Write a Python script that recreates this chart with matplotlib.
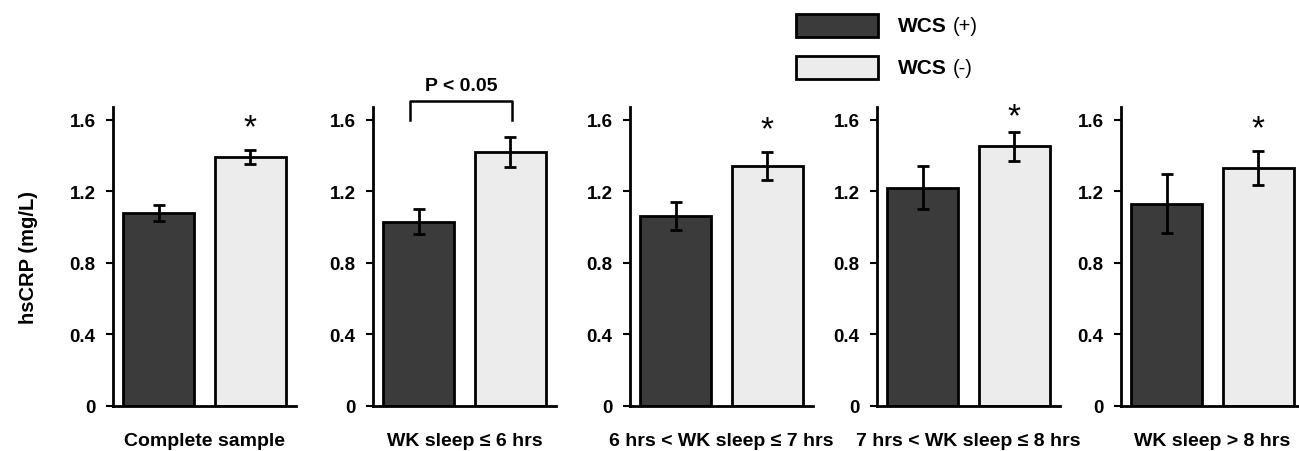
import matplotlib.pyplot as plt
from matplotlib.patches import Rectangle

plt.rcParams['font.family'] = ['Liberation Sans', 'DejaVu Sans']

groups = ["Complete sample", "WK sleep ≤ 6 hrs", "6 hrs < WK sleep ≤ 7 hrs",
          "7 hrs < WK sleep ≤ 8 hrs", "WK sleep > 8 hrs"]
wcs_pos = [1.08, 1.03, 1.06, 1.22, 1.13]
wcs_pos_err = [0.045, 0.07, 0.078, 0.12, 0.165]
wcs_neg = [1.39, 1.42, 1.34, 1.45, 1.33]
wcs_neg_err = [0.04, 0.084, 0.077, 0.083, 0.093]
significant = [True, False, True, True, True]
yticks = [0, 0.4, 0.8, 1.2, 1.6]
ytick_labels = ["0", "0.4", "0.8", "1.2", "1.6"]

dark = "#3b3b3b"
light = "#ececec"

W, H = 1299, 452
fig = plt.figure(figsize=(W / 100, H / 100), dpi=100)

# panel left edges in pixels
lefts = [113, 373, 630, 877, 1121]
for i in range(5):
    ax = fig.add_axes([lefts[i] / W, 45 / H, 183 / W, 299 / H])
    ax.bar([0, 1], [wcs_pos[i], wcs_neg[i]], width=0.78, color=[dark, light],
           edgecolor="black", linewidth=2)
    ax.errorbar([0, 1], [wcs_pos[i], wcs_neg[i]], yerr=[wcs_pos_err[i], wcs_neg_err[i]],
                fmt="none", ecolor="black", elinewidth=2, capsize=4, capthick=2)
    ax.set_xlim(-0.5, 1.5)
    ax.set_ylim(0, 1.67)
    ax.set_yticks(yticks)
    ax.set_yticklabels(ytick_labels, fontweight="bold", fontsize=13.5)
    ax.set_xticks([])
    for s in ["top", "right"]:
        ax.spines[s].set_visible(False)
    for s in ["left", "bottom"]:
        ax.spines[s].set_linewidth(2)
    ax.tick_params(axis="y", length=5, width=1.5, pad=7.5)
    ax.set_xlabel(groups[i], fontweight="bold", fontsize=14, labelpad=19)
    if significant[i]:
        ax.text(1, min(wcs_neg[i] + wcs_neg_err[i] + 0.125, 1.615), "*", ha="center",
                va="center", fontsize=24)
    if i == 0:
        ax.set_ylabel("hsCRP (mg/L)", fontweight="bold", fontsize=14.5, labelpad=23)
    if i == 1:
        ax.plot([-0.1, -0.1, 1.02, 1.02], [1.595, 1.705, 1.705, 1.595], color="black",
                linewidth=1.8, clip_on=False)
        ax.text(0.46, 1.74, "P < 0.05", ha="center", va="bottom", fontweight="bold",
                fontsize=14)

# legend
fig.patches.append(Rectangle((796 / W, 1 - 38 / H), 82 / W, 23 / H, transform=fig.transFigure,
                             facecolor=dark, edgecolor="black", linewidth=2))
fig.patches.append(Rectangle((796 / W, 1 - 80 / H), 82 / W, 23 / H, transform=fig.transFigure,
                             facecolor=light, edgecolor="black", linewidth=2))
fig.text(898 / W, 1 - 27 / H, "WCS", fontweight="bold", fontsize=15, va="center")
fig.text(953 / W, 1 - 27 / H, "(+)", fontsize=14.5, va="center")
fig.text(898 / W, 1 - 69 / H, "WCS", fontweight="bold", fontsize=15, va="center")
fig.text(953 / W, 1 - 69 / H, "(-)", fontsize=14.5, va="center")

fig.savefig("out.png", dpi=100)
